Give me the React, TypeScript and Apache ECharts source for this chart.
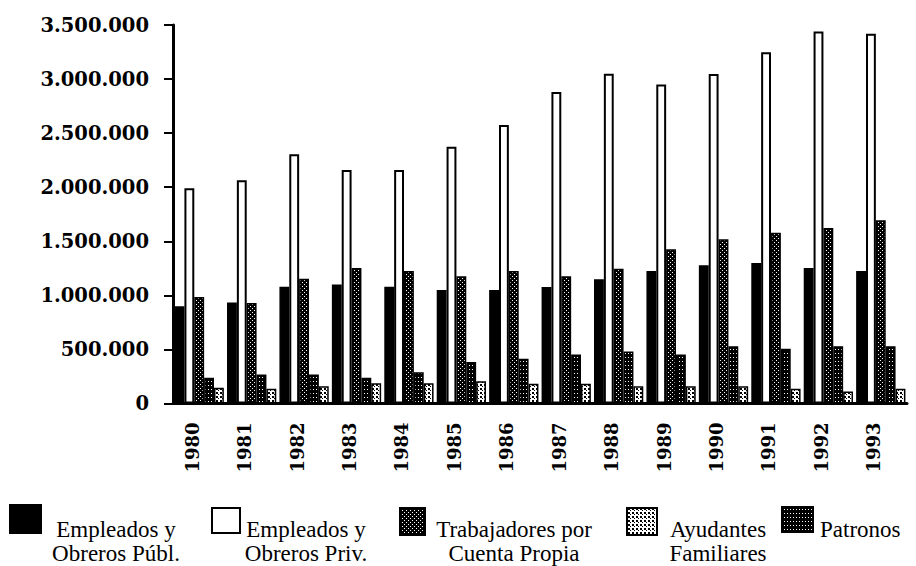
import React, { useEffect, useRef } from 'react';
import * as echarts from 'echarts';

const years = ['1980', '1981', '1982', '1983', '1984', '1985', '1986', '1987', '1988', '1989', '1990', '1991', '1992', '1993'];
const publ = [900000, 935000, 1080000, 1100000, 1080000, 1050000, 1050000, 1077000, 1150000, 1225000, 1278000, 1300000, 1253000, 1225000];
const priv = [1990000, 2065000, 2305000, 2160000, 2160000, 2375000, 2575000, 2880000, 3050000, 2950000, 3046000, 3247000, 3440000, 3420000];
const propia = [985000, 930000, 1154000, 1253000, 1225000, 1176000, 1225000, 1176000, 1247000, 1426000, 1519000, 1580000, 1623000, 1694000];
const patronos = [237000, 268000, 268000, 237000, 290000, 383000, 413000, 454000, 481000, 454000, 530000, 506000, 530000, 530000];
const ayudantes = [145000, 136000, 160000, 188000, 188000, 206000, 182000, 182000, 160000, 160000, 160000, 136000, 111000, 136000];

const seriesNames = [
  'Empleados y Obreros Públ.',
  'Empleados y Obreros Priv.',
  'Trabajadores por Cuenta Propia',
  'Patronos',
  'Ayudantes Familiares',
];
const legendLabels = [
  'Empleados y\nObreros Públ.',
  'Empleados y\nObreros Priv.',
  'Trabajadores por\nCuenta Propia',
  'Ayudantes\nFamiliares',
  'Patronos',
];

function makePattern(w: number, h: number, bg: string, fg: string, dots: number[][]) {
  const c = document.createElement('canvas');
  c.width = w;
  c.height = h;
  const ctx = c.getContext('2d')!;
  ctx.fillStyle = bg;
  ctx.fillRect(0, 0, w, h);
  ctx.fillStyle = fg;
  dots.forEach(([x, y, dw, dh]) => ctx.fillRect(x, y, dw, dh));
  return { image: c, repeat: 'repeat', imageWidth: w, imageHeight: h } as any;
}

function fmt(v: number) {
  return String(v).replace(/\B(?=(\d{3})+(?!\d))/g, '.');
}

export default function App() {
  const ref = useRef<HTMLDivElement>(null);
  useEffect(() => {
    if (!ref.current) return;
    const chart = echarts.init(ref.current, undefined, { renderer: 'svg' });
    const propiaPat = makePattern(4, 4, '#000', '#fff', [[0, 0, 1, 1], [2, 2, 1, 1]]);
    const patronosPat = makePattern(3, 4, '#000', '#fff', [[1, 1, 1, 1]]);
    const ayudantesPat = makePattern(4, 4, '#fff', '#000', [[0, 0, 2, 2], [2, 2, 1, 1]]);
    const fills = ['#000', '#fff', propiaPat, patronosPat, ayudantesPat];
    const dataSets = [publ, priv, propia, patronos, ayudantes];

    const legendDefs = [
      { rect: [10, 505, 31, 28], fill: '#000', tx: 116, align: 'center' },
      { rect: [212, 508, 28, 25], fill: '#fff', tx: 306, align: 'center' },
      { rect: [400, 508, 25, 27], fill: propiaPat, tx: 514, align: 'center' },
      { rect: [627, 508, 30, 27], fill: ayudantesPat, tx: 718, align: 'center' },
      { rect: [782, 507, 31, 25], fill: patronosPat, tx: 820, align: 'left' },
    ];
    const graphic: any[] = [];
    legendDefs.forEach((d, i) => {
      graphic.push({
        type: 'rect',
        shape: { x: d.rect[0], y: d.rect[1], width: d.rect[2], height: d.rect[3] },
        style: { fill: d.fill, stroke: '#000', lineWidth: 2 },
      });
      graphic.push({
        type: 'text',
        x: d.tx,
        y: 517,
        style: {
          text: legendLabels[i],
          fontFamily: 'Liberation Serif',
          fontSize: 23,
          lineHeight: 24,
          fill: '#000',
          align: d.align,
          verticalAlign: 'top',
        },
      });
    });

    chart.setOption({
      animation: false,
      backgroundColor: '#fff',
      grid: { left: 173, right: 9, top: 25, bottom: 162.5, containLabel: false },
      xAxis: {
        type: 'category',
        data: years,
        axisLine: { lineStyle: { color: '#000', width: 3 } },
        axisTick: { length: 9, lineStyle: { color: '#000', width: 2 } },
        axisLabel: {
          rotate: 90,
          margin: 19,
          verticalAlign: 'bottom',
          lineHeight: 14,
          color: '#000',
          fontFamily: 'DejaVu Serif',
          fontWeight: 'bold',
          fontSize: 18,
        },
        splitLine: { show: false },
      },
      yAxis: {
        type: 'value',
        min: 0,
        max: 3500000,
        interval: 500000,
        axisLine: { show: true, lineStyle: { color: '#000', width: 3 } },
        axisTick: { show: true, length: 9, lineStyle: { color: '#000', width: 2 } },
        axisLabel: {
          margin: 24,
          color: '#000',
          fontFamily: 'DejaVu Serif',
          fontWeight: 'bold',
          fontSize: 19.5,
          formatter: (v: number) => fmt(v),
        },
        splitLine: { show: false },
      },
      series: dataSets.map((arr, i) => ({
        name: seriesNames[i],
        type: 'bar',
        data: arr,
        barGap: '0%',
        barCategoryGap: '6%',
        itemStyle: { color: fills[i], borderColor: '#000', borderWidth: i === 1 ? 2 : 1.5 },
      })),
      graphic,
    });
    return () => chart.dispose();
  }, []);
  return <div ref={ref} style={{ position: 'fixed', left: 0, top: 0, width: 916, height: 566 }} />;
}
